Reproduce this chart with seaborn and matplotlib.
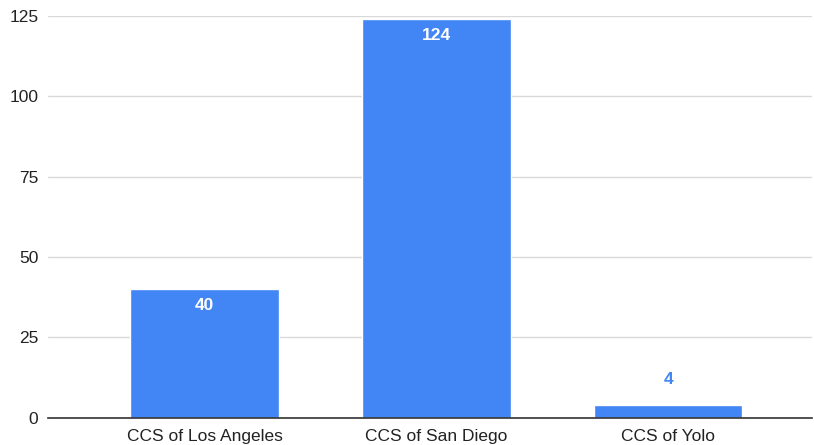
import pandas as pd
import seaborn as sns
import matplotlib.pyplot as plt

# Data
categories = ["CCS of Los Angeles", "CCS of San Diego", "CCS of Yolo"]
counts = [40, 124, 4]
y_ticks = [0, 25, 50, 75, 100, 125]

df = pd.DataFrame({"category": categories, "count": counts})

sns.set_style("white")
plt.rcParams['font.family'] = ['Liberation Sans', 'DejaVu Sans']

fig = plt.figure(figsize=(8.14, 4.45), dpi=100)
ax = fig.add_axes([0.059, 0.061, 0.9385, 0.903])

bar_color = "#4285F4"
sns.barplot(data=df, x="category", y="count", color=bar_color, saturation=1,
            width=0.64, ax=ax, zorder=3)

ax.set_ylim(0, 125)
ax.set_xlim(-0.675, 2.62)
ax.set_yticks(y_ticks)
ax.yaxis.grid(True, color="#d9d9d9", linewidth=1, zorder=0)
ax.set_axisbelow(True)
ax.set_xlabel("")
ax.set_ylabel("")
ax.tick_params(axis="both", length=0, labelsize=12.5, labelcolor="#222222")
ax.tick_params(axis="x", pad=8)
ax.tick_params(axis="y", pad=7)

for side in ["top", "right", "left"]:
    ax.spines[side].set_visible(False)
ax.spines["bottom"].set_color("#333333")
ax.spines["bottom"].set_linewidth(1.2)
ax.spines["bottom"].set_zorder(4)

# Value labels: white inside tall bars, blue above short ones
for i, v in enumerate(counts):
    if v > 20:
        ax.annotate(str(v), (i, v), xytext=(0, -11.5), textcoords="offset points",
                    ha="center", va="center", color="white", fontsize=12.5,
                    fontweight="bold", zorder=5)
    else:
        ax.annotate(str(v), (i, v), xytext=(0, 18), textcoords="offset points",
                    ha="center", va="center", color=bar_color, fontsize=12.5,
                    fontweight="bold", zorder=5)

fig.savefig("out.png", dpi=100)
